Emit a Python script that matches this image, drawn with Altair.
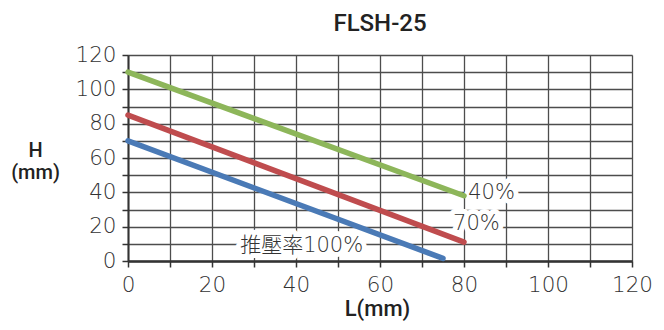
import altair as alt
import pandas as pd

# series (L in mm, H in mm) per thrust ratio
series = ["40%", "70%", "100%"]
l_start = [0, 0, 0]
h_start = [110, 85, 70]
l_end = [80, 80, 75]
h_end = [38, 11, 1.5]
colors = ["#8db65a", "#bf4c4e", "#4a7ab6"]

label_text = ["40%", "70%", "推壓率100%"]
label_l = [81, 77.4, 26.7]
label_h = [39.5, 21.5, 8.5]

rows = []
for s, x0, y0, x1, y1 in zip(series, l_start, h_start, l_end, h_end):
    rows.append({"s": s, "L": x0, "H": y0})
    rows.append({"s": s, "L": x1, "H": y1})
df = pd.DataFrame(rows)
lab = pd.DataFrame({"t": label_text, "L": label_l, "H": label_h})

NUMFONT = "DejaVu Sans, Noto Sans CJK JP"
TFONT = "Roboto"
ticks = list(range(0, 121, 10))

xs = alt.Scale(domain=[0, 120], nice=False)
ys = alt.Scale(domain=[0, 120], nice=False)

common = dict(values=ticks, tickCount=len(ticks), grid=True, gridColor="#4d4d4d",
              gridOpacity=1, gridWidth=1.3,
              labelExpr="datum.value % 20 == 0 ? datum.label : ''", labelOverlap=False,
              labelFlush=False,
              tickSize=6, tickColor="#333333", tickWidth=1.5, domainColor="#333333",
              labelFont=NUMFONT, labelFontWeight=200, labelFontSize=21.5, labelColor="#333333")

xaxis = alt.Axis(**common, domainWidth=2.5, labelPadding=7,
                 title="L(mm)", titleFont=TFONT, titleFontSize=22, titleFontWeight=500,
                 titleColor="#222222", titleX=249, titleY=37, titleBaseline="top",
                 titleAlign="center")
yaxis = alt.Axis(**common, domainWidth=2, labelPadding=6,
                 title=["H", "(mm)"], titleAngle=0, titleFont=TFONT,
                 titleFontSize=20, titleFontWeight=500, titleColor="#222222",
                 titleX=-93, titleY=85, titleAlign="center", titleBaseline="top",
                 titleLineHeight=22)

lines = alt.Chart(df).mark_line(strokeWidth=5.5, strokeCap="round").encode(
    x=alt.X("L:Q", scale=xs, axis=xaxis),
    y=alt.Y("H:Q", scale=ys, axis=yaxis),
    color=alt.Color("s:N", scale=alt.Scale(domain=series, range=colors), legend=None),
    detail="s:N",
)

halo = alt.Chart(lab).mark_text(align="left", baseline="middle", font=NUMFONT, fontSize=21,
                                fontWeight=200, stroke="white", strokeWidth=10,
                                strokeJoin="round", fill="white").encode(
    x=alt.X("L:Q", scale=xs), y=alt.Y("H:Q", scale=ys), text="t:N")
text = alt.Chart(lab).mark_text(align="left", baseline="middle", font=NUMFONT, fontSize=21,
                                fontWeight=200, color="#333333").encode(
    x=alt.X("L:Q", scale=xs), y=alt.Y("H:Q", scale=ys), text="t:N")

chart = alt.layer(halo, lines, text).properties(
    width=504, height=206,
    autosize=alt.AutoSizeParams(type="none"),
    padding={"left": 120, "top": 47, "right": 24, "bottom": 61},
    title=alt.TitleParams("FLSH-25", font=TFONT, fontSize=24, fontWeight=500,
                          color="#222222", anchor="middle", offset=8),
).configure_view(stroke="#444444", strokeWidth=2).configure(background="white")

chart.save("out.html", embed_options={"renderer": "svg", "actions": False})
